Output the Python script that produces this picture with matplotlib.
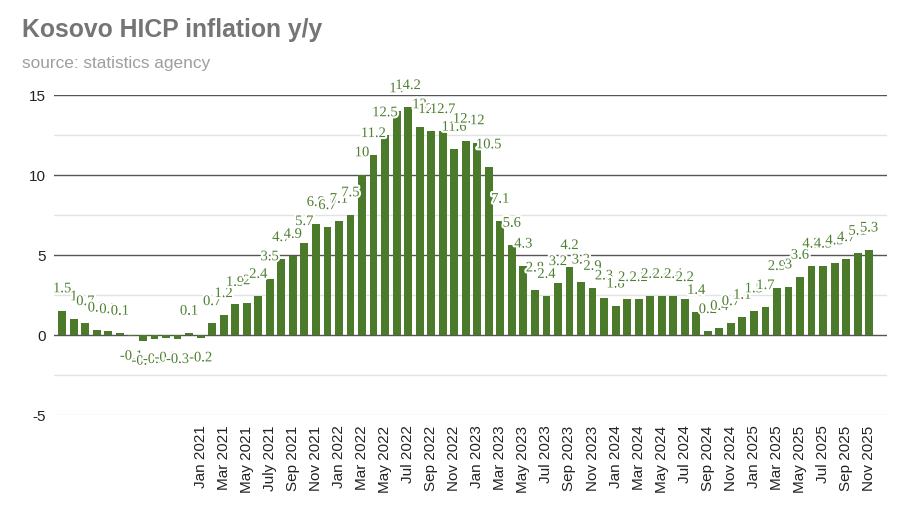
import matplotlib
matplotlib.use("Agg")
import matplotlib.pyplot as plt
import matplotlib.patheffects as pe

# Monthly HICP inflation y/y, Jan 2020 .. Nov 2025
values = [
    1.5, 1.0, 0.7, 0.3, 0.2, 0.1, -0.1, -0.4, -0.3, -0.2, -0.3, 0.1,      # 2020
    -0.2, 0.7, 1.2, 1.9, 2.0, 2.4, 3.5, 4.7, 4.9, 5.7, 6.9, 6.7,          # 2021
    7.1, 7.5, 10.0, 11.2, 12.5, 14.0, 14.2, 13.0, 12.7, 12.7, 11.6, 12.1, # 2022
    12.0, 10.5, 7.1, 5.6, 4.3, 2.8, 2.4, 3.2, 4.2, 3.3, 2.9, 2.3,         # 2023
    1.8, 2.2, 2.2, 2.4, 2.4, 2.4, 2.2, 1.4, 0.2, 0.4, 0.7, 1.1,           # 2024
    1.5, 1.7, 2.9, 3.0, 3.6, 4.3, 4.3, 4.5, 4.7, 5.1, 5.3,                # 2025
]
first_tick_index = 12   # Jan 2021
tick_labels = [
    "Jan 2021", "Mar 2021", "May 2021", "July 2021", "Sep 2021", "Nov 2021",
    "Jan 2022", "Mar 2022", "May 2022", "Jul 2022", "Sep 2022", "Nov 2022",
    "Jan 2023", "Mar 2023", "May 2023", "Jul 2023", "Sep 2023", "Nov 2023",
    "Jan 2024", "Mar 2024", "May 2024", "Jul 2024", "Sep 2024", "Nov 2024",
    "Jan 2025", "Mar 2025", "May 2025", "Jul 2025", "Sep 2025", "Nov 2025",
]
y_ticks = [-5, 0, 5, 10, 15]
major_grid = [0, 5, 10, 15]
minor_grid = [-5, -2.5, 2.5, 7.5, 12.5]

title = "Kosovo HICP inflation y/y"
subtitle = "source: statistics agency"

GREEN = "#4b7a2b"
LABEL_GREEN = "#4f7f30"

plt.rcParams["font.family"] = ["Liberation Sans", "DejaVu Sans"]

fig = plt.figure(figsize=(9, 5.1), dpi=100)
ax = fig.add_axes([0.06, 0.1849, 0.925, 0.6275])

x = list(range(len(values)))
ax.bar(x, values, width=0.68, color=GREEN, zorder=3)

for yv in minor_grid:
    ax.axhline(yv, color="#e3e3e3", lw=1.0, zorder=1)
for yv in major_grid:
    ax.axhline(yv, color="#555555", lw=1.0, zorder=2)

halo = [pe.withStroke(linewidth=3, foreground="white")]
for xi, v in zip(x, values):
    off = 15.8 if v >= 0 else -14.4
    ax.annotate(f"{v:g}", (xi, v), xytext=(0, off), textcoords="offset points",
                ha="center", va="center", fontsize=10.5, color=LABEL_GREEN,
                family=["Liberation Serif", "DejaVu Serif"],
                path_effects=halo, zorder=5)

ax.set_xlim(-0.72, 71.5)
ax.set_ylim(-5, 15)
ax.set_yticks(y_ticks)
ax.set_yticklabels([str(t) for t in y_ticks])
tick_pos = [first_tick_index + 2 * k for k in range(len(tick_labels))]
ax.set_xticks(tick_pos)
ax.set_xticklabels(tick_labels, rotation=90, va="top", ha="center")
ax.tick_params(axis="both", length=0, labelsize=11, colors="#222222")
ax.tick_params(axis="x", pad=7)
ax.tick_params(axis="y", pad=6)
for s in ax.spines.values():
    s.set_visible(False)

fig.text(22 / 900, 1 - 37.5 / 510, title, fontsize=17.8, fontweight="bold",
         color="#757575", va="baseline", ha="left")
fig.text(22 / 900, 1 - 68 / 510, subtitle, fontsize=12.4, color="#9e9e9e",
         va="baseline", ha="left")

fig.savefig("out.png", dpi=100)
